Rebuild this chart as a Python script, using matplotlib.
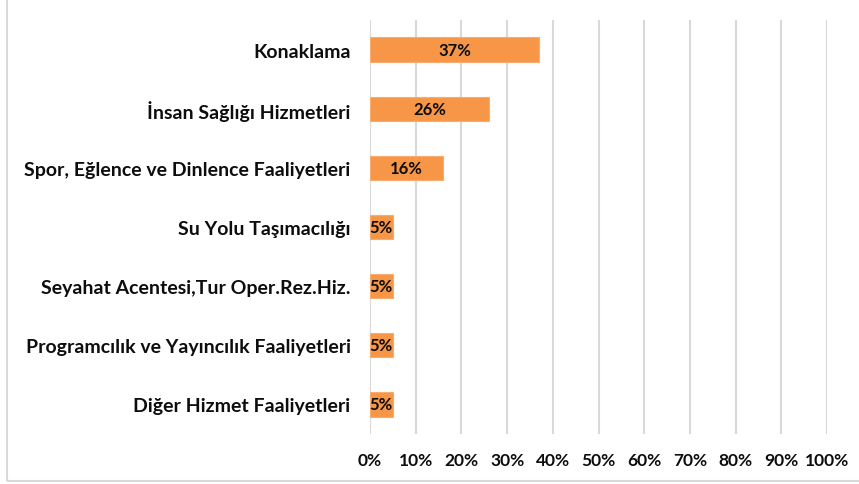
import matplotlib.pyplot as plt
from matplotlib.patches import Rectangle
import numpy as np

# data
categories = [
    "Konaklama",
    "İnsan Sağlığı Hizmetleri",
    "Spor, Eğlence ve Dinlence Faaliyetleri",
    "Su Yolu Taşımacılığı",
    "Seyahat Acentesi,Tur Oper.Rez.Hiz.",
    "Programcılık ve Yayıncılık Faaliyetleri",
    "Diğer Hizmet Faaliyetleri",
]
shares = [37, 26, 16, 5, 5, 5, 5]
xticks = [0, 10, 20, 30, 40, 50, 60, 70, 80, 90, 100]

plt.rcParams["font.family"] = ["Lato", "DejaVu Sans"]
plt.rcParams["font.weight"] = "bold"

fig = plt.figure(figsize=(8.59, 4.85), dpi=100)
ax = fig.add_axes([370 / 859, 1 - 435 / 485, 457 / 859, 414 / 485])

ypos = np.arange(len(categories))
ax.barh(ypos, shares, height=0.41, color="#F79646", edgecolor="#F9AC72",
        linewidth=0.8, zorder=3)
for y, v in zip(ypos, shares):
    ax.text(v / 2, y, f"{v}%", ha="center", va="center", fontsize=12,
            fontweight="bold", color="#0d0d0d", zorder=4)

ax.set_xlim(0, 100)
ax.set_ylim(len(categories) - 0.5, -0.5)
ax.set_yticks(ypos)
ax.set_yticklabels(categories, fontsize=14, fontweight="bold", color="#0d0d0d")
ax.set_xticks(xticks)
ax.set_xticklabels([f"{t}%" for t in xticks], fontsize=12.5, fontweight="bold",
                   color="#0d0d0d")
ax.tick_params(axis="both", length=0)
ax.tick_params(axis="x", pad=13)
ax.tick_params(axis="y", pad=14)
ax.xaxis.grid(True, color="#D9D9D9", linewidth=1.5, zorder=0)
for s in ax.spines.values():
    s.set_visible(False)

# outer border (only left and bottom edges fall inside the image)
fig.patches.append(Rectangle((7 / 859, 3 / 485), 1.2, 1.2, transform=fig.transFigure,
                             fill=False, edgecolor="#D9D9D9", linewidth=1.5))

plt.savefig("out.png", dpi=100)
